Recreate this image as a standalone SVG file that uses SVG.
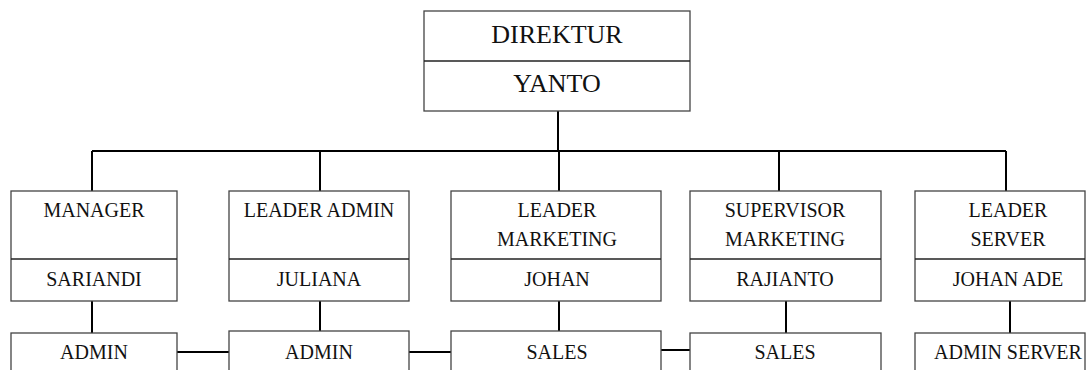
<svg xmlns="http://www.w3.org/2000/svg" width="1086" height="370" viewBox="0 0 1086 370">
<style>
.box{fill:#fff;stroke:#444;stroke-width:1.3}
.div{stroke:#222;stroke-width:1.6}
.con{stroke:#000;stroke-width:2;fill:none}
text{font-family:"Liberation Serif","Times New Roman",serif;fill:#111;text-anchor:middle}
.big{font-size:26px}
.sm{font-size:20px}
</style>
<rect width="1086" height="370" fill="#fff"/>
<g id="connectors">
<path class="con" d="M558 111V151M92 151H1006M92 151V191M320 151V191M559 151V191M779 151V191M1006 151V191"/>
<path class="con" d="M92 301V333M320 301V331M559 301V331M786 301V333M1010 301V333"/>
<path class="con" d="M177 352H229M409 352H451M661 350H690"/>
</g>
<g id="direktur">
<rect class="box" x="424" y="11" width="266" height="100"/>
<line class="div" x1="424" y1="61" x2="690" y2="61"/>
<text class="big" x="557" y="43">DIREKTUR</text>
<text class="big" x="557" y="92">YANTO</text>
</g>
<g id="manager">
<rect class="box" x="11" y="191" width="166" height="110"/>
<line class="div" x1="11" y1="259" x2="177" y2="259"/>
<text class="sm" x="94" y="217">MANAGER</text>
<text class="sm" x="94" y="286">SARIANDI</text>
</g>
<g id="leader-admin">
<rect class="box" x="229" y="191" width="180" height="110"/>
<line class="div" x1="229" y1="259" x2="409" y2="259"/>
<text class="sm" x="319" y="217">LEADER ADMIN</text>
<text class="sm" x="319" y="286">JULIANA</text>
</g>
<g id="leader-marketing">
<rect class="box" x="451" y="191" width="210" height="110"/>
<line class="div" x1="451" y1="259" x2="661" y2="259"/>
<text class="sm" x="557" y="217">LEADER</text>
<text class="sm" x="557" y="246">MARKETING</text>
<text class="sm" x="557" y="286">JOHAN</text>
</g>
<g id="supervisor-marketing">
<rect class="box" x="690" y="191" width="191" height="110"/>
<line class="div" x1="690" y1="259" x2="881" y2="259"/>
<text class="sm" x="785" y="217">SUPERVISOR</text>
<text class="sm" x="785" y="246">MARKETING</text>
<text class="sm" x="785" y="286">RAJIANTO</text>
</g>
<g id="leader-server">
<rect class="box" x="915" y="191" width="170" height="110"/>
<line class="div" x1="915" y1="259" x2="1085" y2="259"/>
<text class="sm" x="1008" y="217">LEADER</text>
<text class="sm" x="1008" y="246">SERVER</text>
<text class="sm" x="1008" y="286">JOHAN ADE</text>
</g>
<g id="admin-1">
<rect class="box" x="11" y="333" width="166" height="50"/>
<text class="sm" x="94" y="359">ADMIN</text>
</g>
<g id="admin-2">
<rect class="box" x="229" y="331" width="180" height="50"/>
<text class="sm" x="319" y="359">ADMIN</text>
</g>
<g id="sales-1">
<rect class="box" x="451" y="331" width="210" height="50"/>
<text class="sm" x="557" y="359">SALES</text>
</g>
<g id="sales-2">
<rect class="box" x="690" y="333" width="191" height="50"/>
<text class="sm" x="785" y="359">SALES</text>
</g>
<g id="admin-server">
<rect class="box" x="915" y="333" width="170" height="50"/>
<text class="sm" x="1008" y="359">ADMIN SERVER</text>
</g>
</svg>
